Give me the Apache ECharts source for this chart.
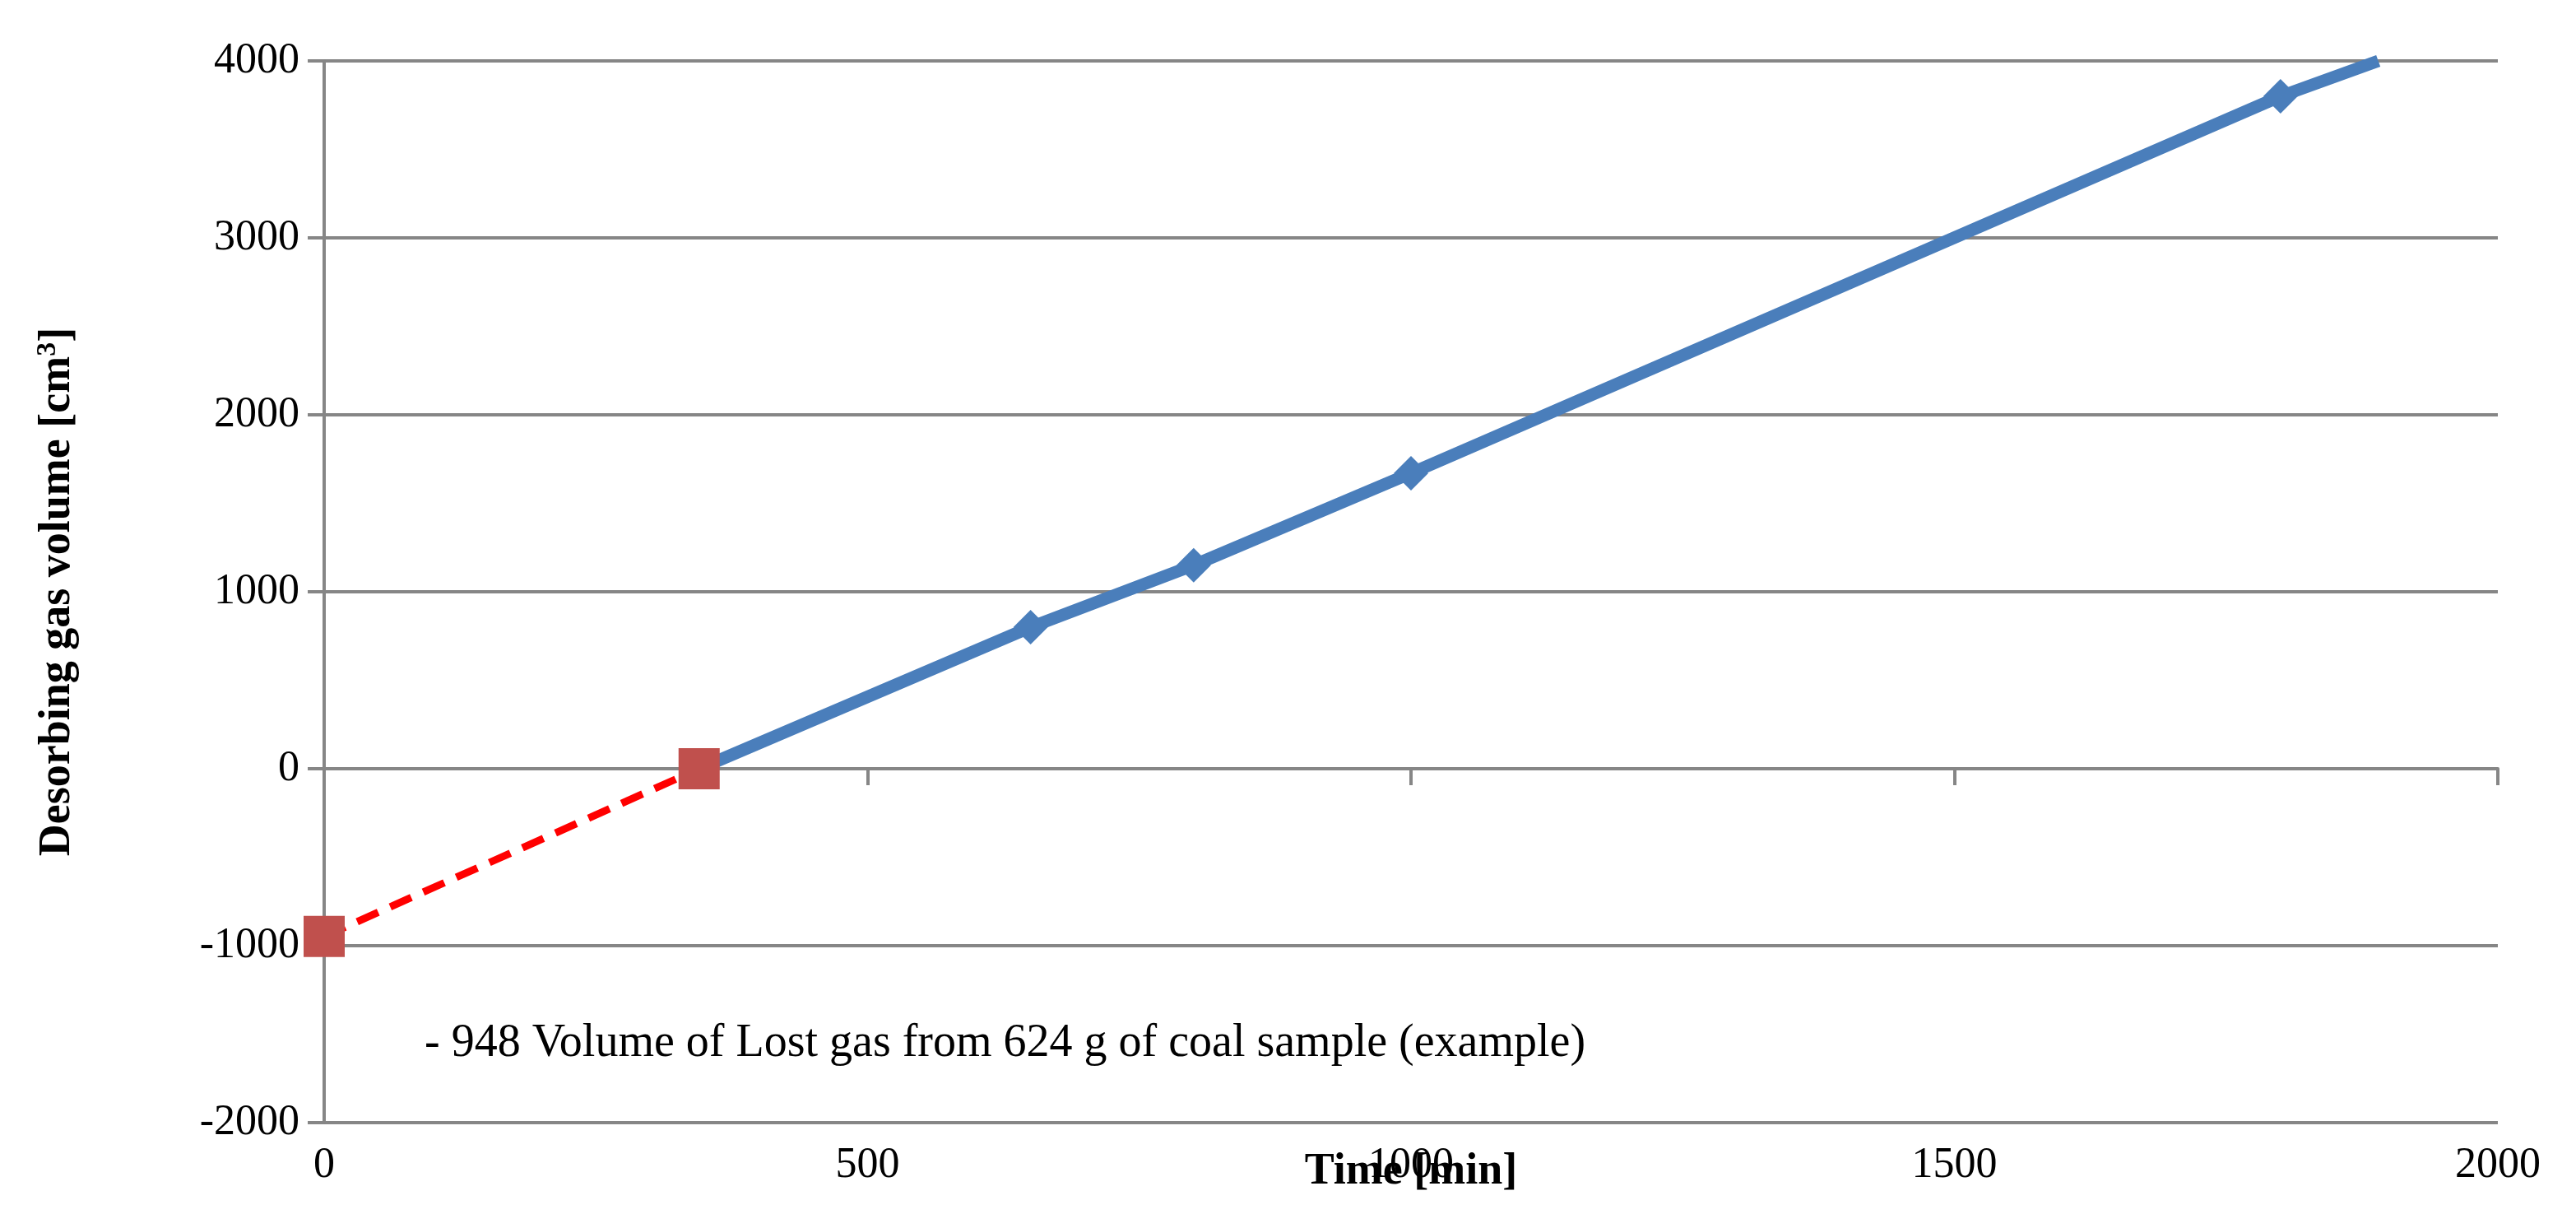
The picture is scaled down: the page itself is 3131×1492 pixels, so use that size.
<!DOCTYPE html>
<html>
<head>
<meta charset="utf-8">
<script src="https://cdn.jsdelivr.net/npm/echarts@6/dist/echarts.min.js"></script>
<style>
  html, body { margin: 0; padding: 0; background: #fff; }
  #chart { width: 3131px; height: 1492px; }
</style>
</head>
<body>
<div id="chart"></div>
<script>
// measured desorption (time min, volume cm3)
const desorbTime = [345, 650, 800, 1000, 1800, 1890];
const desorbVolume = [0, 800, 1150, 1670, 3800, 4000];
// extrapolated lost gas
const lostTime = [0, 345];
const lostVolume = [-948, 0];
const noteText = '- 948 Volume of Lost gas from 624 g of coal sample (example)';

const font = 'Liberation Serif';
const gray = '#868686';

const chart = echarts.init(document.getElementById('chart'));
chart.setOption({
  animation: false,
  grid: { left: 394, right: 95, top: 74, bottom: 128, containLabel: false, outerBoundsMode: 'none' },
  xAxis: {
    type: 'value',
    min: 0, max: 2000, interval: 500,
    axisLine: { onZero: true, lineStyle: { color: gray, width: 4 } },
    axisTick: { show: true, length: 20, lineStyle: { color: gray, width: 4 } },
    axisLabel: { fontFamily: font, fontSize: 52, color: '#000', margin: 26, formatter: v => String(v) },
    splitLine: { show: false },
  },
  yAxis: {
    type: 'value',
    min: -2000, max: 4000, interval: 1000,
    axisLine: { show: true, onZero: false, lineStyle: { color: gray, width: 4 } },
    axisTick: { show: true, length: 20, lineStyle: { color: gray, width: 4 } },
    axisLabel: { fontFamily: font, fontSize: 52, color: '#000', margin: 30, formatter: v => String(v) },
    splitLine: { lineStyle: { color: gray, width: 4 } },
  },
  graphic: [
    {
      type: 'text', left: 516, top: 1240,
      style: { text: noteText, fontFamily: font, fontSize: 56, fill: '#000' },
    },
    {
      type: 'text', x: 1715, y: 1424,
      style: { text: 'Time [min]', fontFamily: font, fontWeight: 'bold', fontSize: 54, fill: '#000', align: 'center', verticalAlign: 'middle' },
    },
    {
      type: 'text', x: 70, y: 719, rotation: Math.PI / 2,
      style: {
        text: 'Desorbing gas volume [cm{sup|3}]', fontFamily: font, fontWeight: 'bold', fontSize: 54, fill: '#000',
        align: 'center', verticalAlign: 'middle',
        rich: {
          n: {},
          sup: { fontFamily: font, fontWeight: 'bold', fontSize: 34, padding: [0, 0, 24, 0] },
        },
      },
    },
  ],
  series: [
    {
      type: 'line',
      data: desorbTime.map((t, i) => [t, desorbVolume[i]]),
      lineStyle: { color: '#4a7ebb', width: 15 },
      itemStyle: { color: '#4a7ebb' },
      symbol: 'diamond',
      symbolSize: (v, p) => (p.dataIndex === 0 || p.dataIndex === desorbTime.length - 1 ? 0 : 42),
      z: 3,
    },
    {
      type: 'line',
      data: lostTime.map((t, i) => [t, lostVolume[i]]),
      lineStyle: { color: '#ff0000', width: 9, type: [28, 16] },
      itemStyle: { color: '#c0504d' },
      symbol: 'rect',
      symbolSize: 50,
      z: 4,
    },
  ],
});
</script>
</body>
</html>
